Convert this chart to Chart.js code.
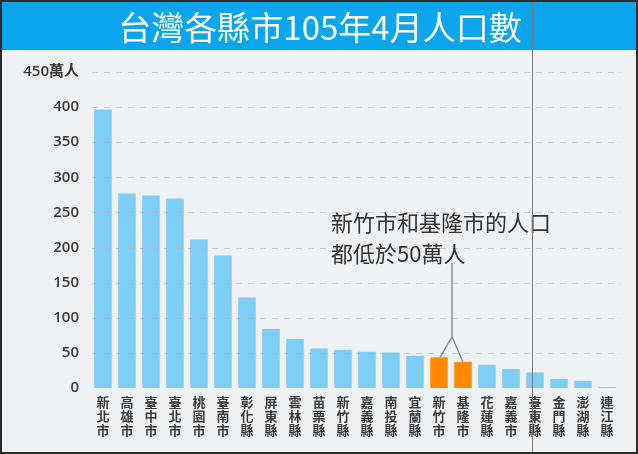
<!DOCTYPE html>
<html>
<head>
<meta charset="utf-8">
<script src="https://cdn.jsdelivr.net/npm/chart.js@4/dist/chart.umd.min.js"></script>
<style>
html,body{margin:0;padding:0;background:#eef2f5;}
#wrap{width:638px;height:454px;position:relative;}
canvas{display:block;}
</style>
</head>
<body>
<div id="wrap"><canvas id="c" width="638" height="454"></canvas></div>
<script>
const titleText = '台灣各縣市105年4月人口數';
const categories = ['新北市','高雄市','臺中市','臺北市','桃園市','臺南市','彰化縣','屏東縣','雲林縣','苗栗縣','新竹縣','嘉義縣','南投縣','宜蘭縣','新竹市','基隆市','花蓮縣','嘉義市','臺東縣','金門縣','澎湖縣','連江縣'];
const population = [396.5, 277, 274.3, 270, 211.5, 188.6, 128.7, 84, 70, 56.4, 54.3, 51.7, 50.6, 45.8, 43.6, 37.1, 33.1, 27, 22.2, 13, 10.3, 1.3];
const highlighted = ['新竹市','基隆市'];
const yTickStep = 50;
const yMax = 450;
const yUnit = '萬人';
const noteLines = ['新竹市和基隆市的人口','都低於50萬人'];

const BLUE = '#7dcdf4';
const ORANGE = '#ff8a00';
const barColors = categories.map(c => highlighted.includes(c) ? ORANGE : BLUE);

const deco = {
  id: 'deco',
  beforeDraw(chart) {
    const ctx = chart.ctx;
    ctx.save();
    ctx.fillStyle = '#eef2f5';
    ctx.fillRect(0, 0, chart.width, chart.height);
    ctx.fillStyle = '#0aa5ec';
    ctx.fillRect(0, 0, chart.width, 50);
    ctx.fillStyle = '#ffffff';
    ctx.font = '33px "Noto Sans CJK TC", "Noto Sans", sans-serif';
    ctx.textAlign = 'center';
    ctx.textBaseline = 'middle';
    ctx.fillText(titleText, 320, 27);
    ctx.restore();
  },
  afterDatasetsDraw(chart) {
    const ctx = chart.ctx;
    const ys = chart.scales.y;
    const a = chart.chartArea;
    ctx.save();
    ctx.strokeStyle = 'rgba(170,178,184,0.55)';
    ctx.lineWidth = 1;
    ctx.setLineDash([6, 6]);
    ys.ticks.forEach(t => {
      if (t.value === 0) return;
      const y = Math.round(ys.getPixelForValue(t.value)) + 0.5;
      ctx.beginPath();
      ctx.moveTo(a.left + 1, y);
      ctx.lineTo(a.right + 2, y);
      ctx.stroke();
    });
    ctx.restore();
  },
  afterDraw(chart) {
    const ctx = chart.ctx;
    const xs = chart.scales.x, ys = chart.scales.y;
    const meta = chart.getDatasetMeta(0);
    const idx = highlighted.map(h => categories.indexOf(h));
    const b1 = meta.data[idx[0]], b2 = meta.data[idx[1]];
    const jx = (b1.x + b2.x) / 2 + 1;
    const jy = ys.getPixelForValue(73);
    const topY = ys.getPixelForValue(178);
    ctx.save();
    ctx.strokeStyle = '#8a8a8a';
    ctx.lineWidth = 1.4;
    ctx.beginPath();
    ctx.moveTo(jx, topY);
    ctx.lineTo(jx, jy);
    ctx.lineTo(b1.x + 1, b1.y);
    ctx.moveTo(jx, jy);
    ctx.lineTo(b2.x, b2.y);
    ctx.stroke();

    ctx.fillStyle = '#333333';
    ctx.font = '22px "Noto Sans CJK TC", "Noto Sans", sans-serif';
    ctx.textAlign = 'left';
    ctx.textBaseline = 'middle';
    const tx = xs.getPixelForValue(10) - 12;
    ctx.fillText(noteLines[0], tx, ys.getPixelForValue(235));
    ctx.fillText(noteLines[1], tx, ys.getPixelForValue(191));

    // vertical rule
    ctx.strokeStyle = '#7a7a7a';
    ctx.lineWidth = 1;
    ctx.beginPath();
    ctx.moveTo(532.5, 0);
    ctx.lineTo(532.5, chart.height);
    ctx.stroke();

    // frame
    ctx.strokeStyle = '#2a2a2a';
    ctx.lineWidth = 2;
    ctx.strokeRect(1, 1, chart.width - 2, chart.height - 2);
    ctx.restore();
  }
};

new Chart(document.getElementById('c'), {
  type: 'bar',
  data: {
    labels: categories,
    datasets: [{
      data: population,
      backgroundColor: barColors,
      borderWidth: 0,
      categoryPercentage: 1,
      barPercentage: 0.73
    }]
  },
  options: {
    responsive: false,
    devicePixelRatio: 1,
    animation: false,
    layout: { padding: { top: 72, left: 0, right: 19, bottom: 0 } },
    plugins: { legend: { display: false }, tooltip: { enabled: false }, title: { display: false } },
    scales: {
      x: {
        grid: { display: false, drawTicks: false },
        border: { display: false },
        ticks: {
          autoSkip: false,
          maxRotation: 0,
          padding: 7,
          color: '#3a3a3a',
          font: { family: '"Noto Sans CJK TC", sans-serif', size: 13, weight: 'bold', lineHeight: 1.08 },
          callback(v) { return this.getLabelForValue(v).split(''); }
        },
        afterFit(s) { s.height = 66; }
      },
      y: {
        min: 0,
        max: yMax,
        grid: { display: false, drawTicks: false },
        border: { display: false },
        ticks: {
          stepSize: yTickStep,
          padding: 12,
          color: '#3a3a3a',
          font: { family: '"Open Sans", "Noto Sans CJK TC", sans-serif', size: 15, weight: '600' },
          callback(v) { return v === yMax ? v + yUnit : v; }
        },
        afterFit(s) { s.width = 91; }
      }
    }
  },
  plugins: [deco]
});
</script>
</body>
</html>
